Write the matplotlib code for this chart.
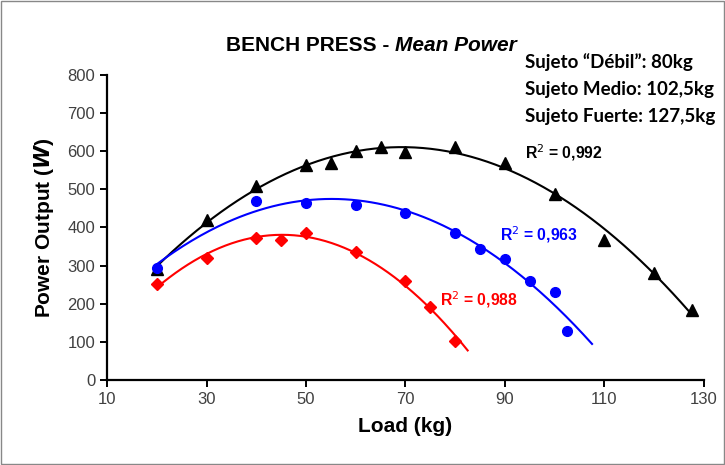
import numpy as np
import matplotlib
matplotlib.use("Agg")
import matplotlib.pyplot as plt

# strong subject (black triangles)
load_strong = [20, 30, 40, 50, 55, 60, 65, 70, 80, 90, 100, 110, 120, 127.5]
power_strong = [290, 420, 510, 565, 570, 600, 610, 598, 612, 570, 487, 368, 280, 183]

# medium subject (blue circles)
load_medium = [20, 40, 50, 60, 70, 80, 85, 90, 95, 100, 102.5]
power_medium = [295, 470, 465, 460, 438, 385, 343, 318, 260, 232, 128]

# weak subject (red diamonds)
load_weak = [20, 30, 40, 45, 50, 60, 70, 75, 80]
power_weak = [252, 320, 373, 368, 385, 335, 260, 192, 103]

r2_labels = ["R$^2$ = 0,992", "R$^2$ = 0,963", "R$^2$ = 0,988"]
subjects = ["Sujeto \u201cD\u00e9bil\u201d: 80kg", "Sujeto Medio: 102,5kg", "Sujeto Fuerte: 127,5kg"]

plt.rcParams['font.family'] = ['Liberation Sans', 'DejaVu Sans']

fig = plt.figure(figsize=(7.25, 4.65), dpi=100)
ax = fig.add_axes([0.1476, 0.1828, 0.8234, 0.656])

series = [
    (load_strong, power_strong, 'black', '^', 8, 127.5),
    (load_medium, power_medium, 'blue', 'o', 7, 107.5),
    (load_weak, power_weak, 'red', 'D', 6, 82.5),
]
for xs, ys, col, mk, ms, xend in series:
    ax.plot(xs, ys, linestyle='none', marker=mk, color=col, markersize=ms, zorder=3)
    # 2nd order trend line like excel
    coef = np.polyfit(xs, ys, 2)
    xx = np.linspace(min(xs), xend, 200)
    ax.plot(xx, np.polyval(coef, xx), color=col, lw=1.5, zorder=2)

ax.set_xlim(10, 130)
ax.set_ylim(0, 800)
ax.set_xticks(range(10, 131, 20))
ax.set_yticks(range(0, 801, 100))
ax.tick_params(direction='out', length=5, width=1.4, labelsize=12, colors='black', labelcolor='#404040')
for s in ['top', 'right']:
    ax.spines[s].set_visible(False)
for s in ['left', 'bottom']:
    ax.spines[s].set_linewidth(1.6)

ax.set_xlabel('Load (kg)', fontsize=15, fontweight='bold', labelpad=7)
ax.set_ylabel('Power Output ($\\mathbfit{W}$)', fontsize=15, fontweight='bold', labelpad=8)

fig.text(0.545, 0.903, 'BENCH PRESS - ', fontsize=15, fontweight='bold', ha='right', va='center')
fig.text(0.545, 0.903, 'Mean Power', fontsize=15, fontweight='bold', style='italic', ha='left', va='center')

for i, t in enumerate(subjects):
    fig.text(0.724, 0.867 - i * 0.059, t, fontsize=13.5, fontweight='bold', family=['Lato', 'DejaVu Sans'],
             ha='left', va='center')

ax.text(94, 596, r2_labels[0], color='black', fontsize=11.3, fontweight='bold', va='center')
ax.text(89, 380, r2_labels[1], color='blue', fontsize=11.3, fontweight='bold', va='center')
ax.text(77, 210, r2_labels[2], color='red', fontsize=11.3, fontweight='bold', va='center')

# outer frame
fig.patches.append(plt.Rectangle((0.002, 0.002), 0.996, 0.996, transform=fig.transFigure,
                                 fill=False, edgecolor='#888888', lw=1))

fig.savefig('out.png', dpi=100)
